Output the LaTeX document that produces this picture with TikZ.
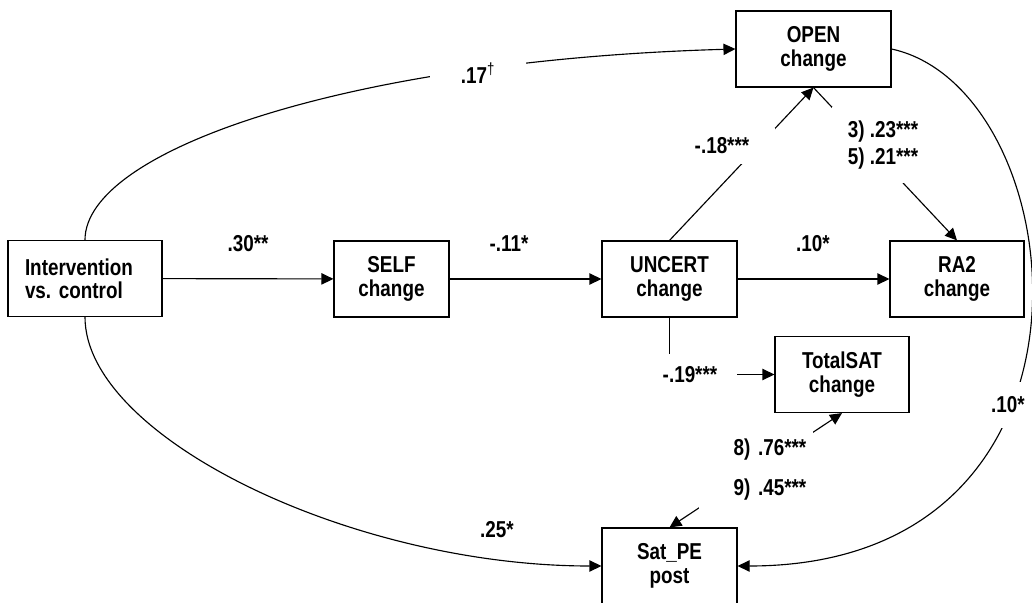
\documentclass[tikz,border=0pt]{standalone}
\usepackage{fontspec}
\setmainfont{Liberation Sans}[FakeStretch=0.82]
\usetikzlibrary{arrows.meta, calc}

\begin{document}
\begin{tikzpicture}[x=0.75pt, y=-0.75pt, line width=0.85pt, font=\fontsize{17.25}{17.5}\selectfont\bfseries]
    % measured variables
    \tikzstyle{var}=[draw, inner sep=0pt, minimum height=57pt, align=center]
    % path coefficients
    \tikzstyle{coef}=[inner sep=0pt]
    % coefficients that cut through their path
    \tikzstyle{gap}=[inner sep=0pt, fill=white, align=center]
    \tikzstyle{arr}=[-{Triangle[length=9pt, width=8.5pt]}]
    \tikzstyle{arrs}=[{Triangle[length=9pt, width=8.5pt]}-{Triangle[length=9pt, width=8.5pt]}]
    \useasboundingbox (0,0) rectangle (1032,603);
    % boxes
    \node[var, minimum width=115.5pt, text width=90pt, align=left] (INT) at (85,278.5) {Intervention\\vs.\ control};
    \node[var, minimum width=86.25pt] (SELF) at (391.5,279) {SELF\\change};
    \node[var, minimum width=101.25pt] (UNCERT) at (669.5,279) {UNCERT\\change};
    \node[var, minimum width=100.5pt] (RA2) at (957,279) {RA2\\change};
    \node[var, minimum width=116.25pt] (OPEN) at (813.5,49) {OPEN\\change};
    \node[var, minimum width=100.5pt] (TSAT) at (842,374.5) {TotalSAT\\change};
    \node[var, minimum width=101.25pt] (SATPE) at (669.5,566) {Sat\_PE\\post};
    % paths
    \draw[arr] (INT) -- (SELF);
    \draw[arr] (SELF) -- (UNCERT);
    \draw[arr] (UNCERT) -- (RA2);
    \draw[arr] (UNCERT.north) -- (OPEN.south);
    \draw[arr] (OPEN.south) -- (RA2.north);
    \draw[arr] (UNCERT.south) |- (TSAT.west);
    \draw[arrs] (SATPE.north) -- (TSAT.south);
    \draw[arr] (INT.north) .. controls +(0,-90) and +(-386,11) .. (OPEN.west);
    \draw[arr] (INT.south) .. controls +(0,120) and +(-250,0) .. (SATPE.west);
    \draw[arr] (OPEN.east) .. controls +(184,40) and +(390,0) .. (SATPE.east);
    % coefficients
    \node[coef] (c30) at (248,244) {.30**};
    \node[coef] (c11) at (509,244) {-.11*};
    \node[coef] (c10) at (813,244) {.10*};
    \node[coef] (c25) at (497,530) {.25*};
    \node[gap, minimum width=72pt, minimum height=16.5pt] (c17) at (478,73) {.17\textsuperscript{\mdseries †}};
    \node[gap, minimum width=79.5pt, minimum height=27pt] (c18) at (722,146) {-.18***};
    \node[gap, minimum width=76.5pt, minimum height=57pt] (c23) at (883,145) {3) .23***\\[3pt]5) .21***};
    \node[gap, minimum width=30pt, minimum height=34.5pt] (c10b) at (1008,405) {.10*};
    \node[gap, minimum width=70.5pt, minimum height=31.5pt] (c19) at (690,375) {-.19***};
    \node[gap, minimum width=85.5pt, minimum height=58.5pt, text width=75.5pt, align=right] (c76) at (756,470) {8) .76***\\[12.5pt]9) .45***};
\end{tikzpicture}
\end{document}
